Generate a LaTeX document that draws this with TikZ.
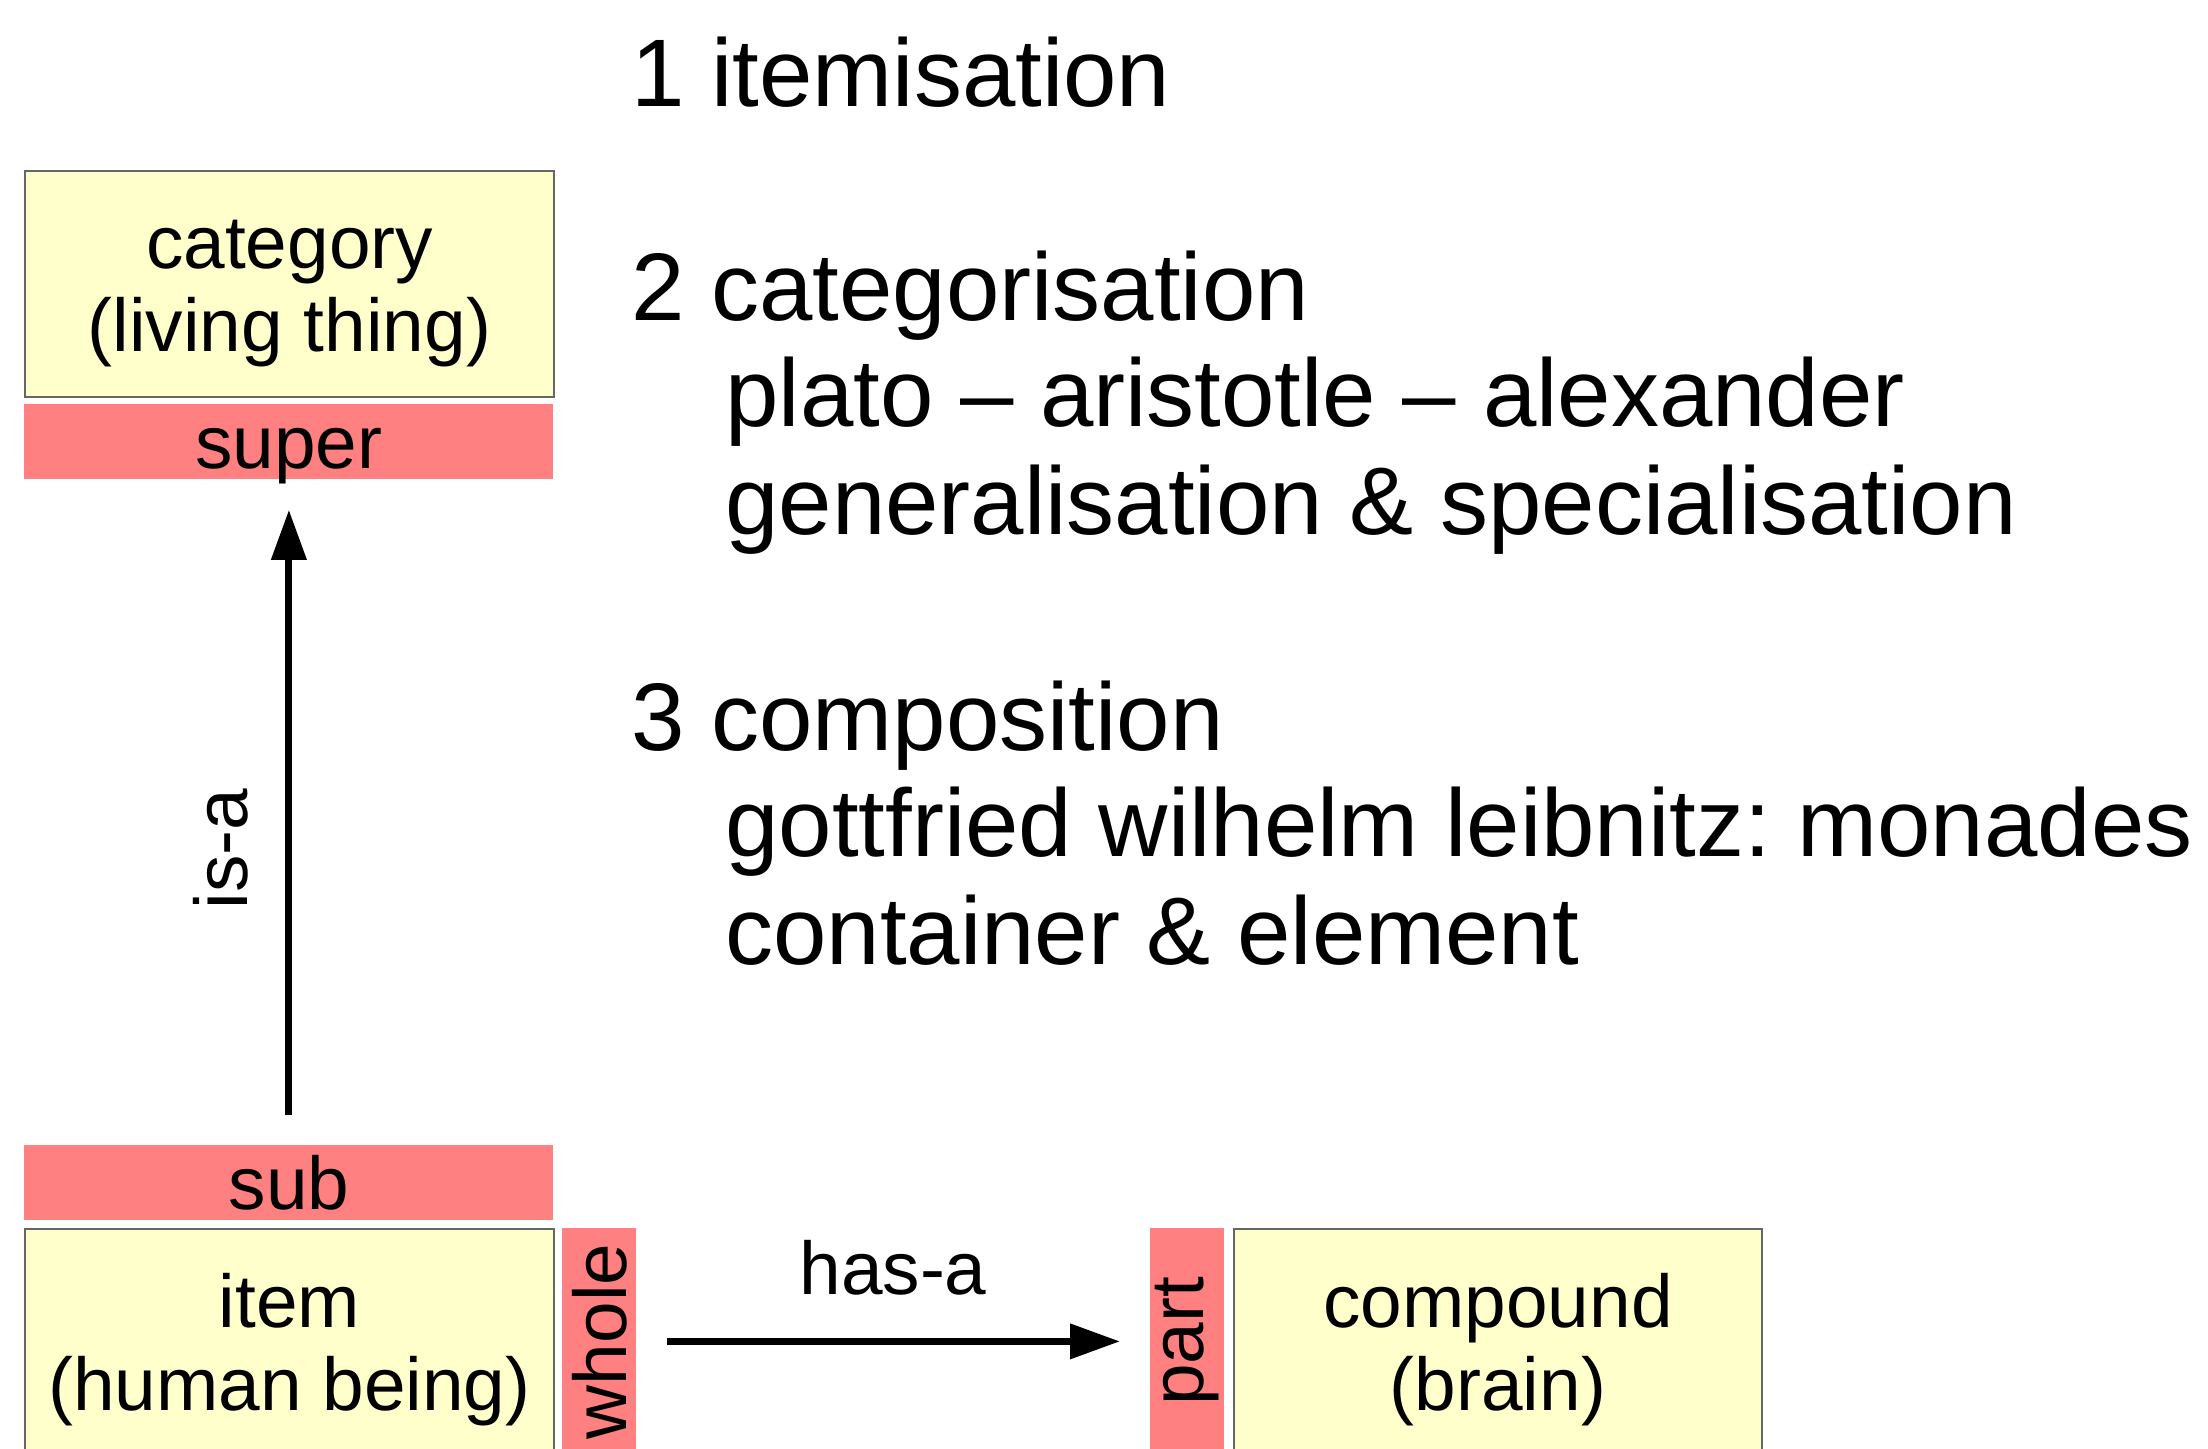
\documentclass[tikz,border=0pt]{standalone}
\usepackage{fontspec}
\setmainfont{Liberation Sans}
\usetikzlibrary{arrows.meta}
\definecolor{boxyellow}{HTML}{FFFFCC}
\definecolor{barred}{HTML}{FF8080}
\definecolor{boxline}{HTML}{666666}
\frenchspacing
\begin{document}
\begin{tikzpicture}[x=0.5pt,y=-0.5pt,
  conceptbox/.style={draw=boxline, line width=1pt, fill=boxyellow, minimum width=264.5pt, minimum height=113pt, inner sep=0pt, anchor=north west},
  boxtext/.style={inner sep=0pt, align=center, font=\fontsize{37.4}{41.5}\selectfont},
  hbar/.style={fill=barred, minimum width=264.5pt, minimum height=37.5pt, inner sep=0pt, anchor=north west, text height=27pt, text depth=0pt, font=\fontsize{37.4}{41.5}\selectfont},
  vbar/.style={fill=barred, minimum width=37pt, minimum height=113pt, inner sep=0pt, anchor=north west},
  vlabel/.style={rotate=90, inner sep=0pt, font=\fontsize{37.4}{41.5}\selectfont},
  smalllabel/.style={inner sep=0pt, font=\fontsize{37.4}{41.5}\selectfont},
  bigtext/.style={inner sep=0pt, anchor=base west, font=\fontsize{48}{52}\selectfont},
  conn/.style={line width=3.5pt, -{Triangle[length=25pt, width=17pt]}, shorten <=15pt, shorten >=15pt}
]
\useasboundingbox (0,0) rectangle (2208,1449);
\clip (0,0) rectangle (2208,1449);

% boxes
\node[conceptbox] (category) at (24,170) {};
\node[boxtext] (categorytext) at ([yshift=-5pt]category.center) {category\\(living thing)};
\node[hbar] (super) at (24,404) {super};
\node[hbar] (sub) at (24,1145) {sub};
\node[conceptbox] (item) at (24,1228) {};
\node[boxtext] (itemtext) at ([yshift=-4pt]item.center) {item\\(human being)};
\node[vbar] (whole) at (562,1228) {};
\node[vlabel] (wholetext) at (whole.center) {whole};
\node[vbar] (part) at (1150,1228) {};
\node[vlabel] (parttext) at (part.center) {part};
\node[conceptbox, minimum width=264pt] (compound) at (1233,1228) {};
\node[boxtext] (compoundtext) at ([yshift=-4pt]compound.center) {compound\\(brain)};

% connectors
\draw[conn] (sub.north) -- (super.south);
\draw[conn] (whole.east) -- (part.west);
\node[vlabel] (isa) at (221,849) {is-a};
\node[smalllabel] (hasa) at (893,1268) {has-a};

% text
\node[bigtext] (t1) at (631,107) {1 itemisation};
\node[bigtext] (t2) at (631,321) {2 categorisation};
\node[bigtext] (t2a) at (725,427) {plato – aristotle – alexander};
\node[bigtext] (t2b) at (725,535) {generalisation \& specialisation};
\node[bigtext] (t3) at (631,750) {3 composition};
\node[bigtext] (t3a) at (725,856) {gottfried wilhelm leibnitz: monades};
\node[bigtext] (t3b) at (725,964) {container \& element};
\end{tikzpicture}
\end{document}
